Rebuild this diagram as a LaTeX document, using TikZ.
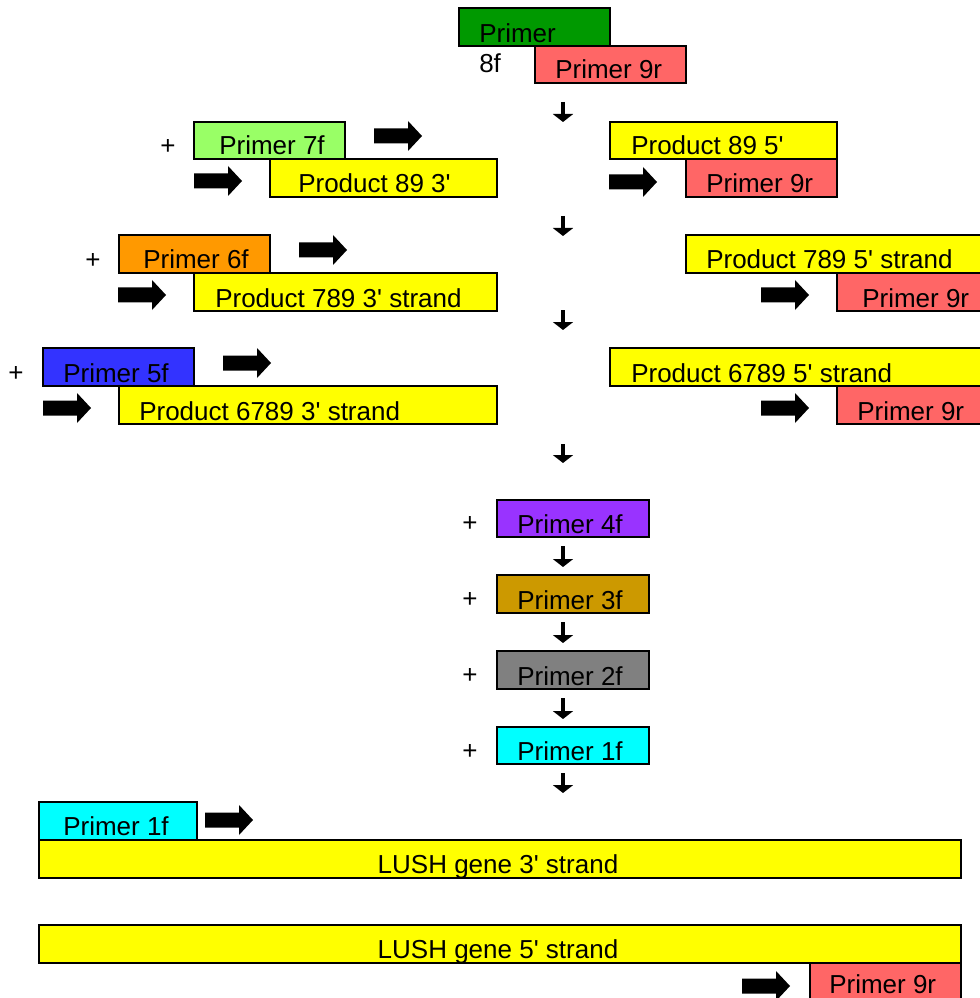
\documentclass[tikz,border=0pt]{standalone}
\usepackage{fontspec}
\setmainfont{Liberation Sans}[Ligatures=TeXOff]
\usetikzlibrary{fit,arrows.meta}
\definecolor{dkgreen}{HTML}{009900}
\definecolor{salmon}{HTML}{FF6666}
\definecolor{ltgreen}{HTML}{99FF66}
\definecolor{yel}{HTML}{FFFF00}
\definecolor{orng}{HTML}{FF9900}
\definecolor{blu}{HTML}{3333FF}
\definecolor{purp}{HTML}{9933FF}
\definecolor{gold}{HTML}{CC9900}
\definecolor{gry}{HTML}{808080}
\definecolor{cyn}{HTML}{00FFFF}
\tikzset{
 boxst/.style={draw=black, line width=1pt, inner sep=0pt},
 lbl/.style={inner sep=0pt, font=\fontsize{19.5}{23}\selectfont, anchor=base west},
 plus/.style={inner sep=0pt, font=\fontsize{19.5}{23}\selectfont},
 down/.style={line width=2.4pt, -{Triangle[width=15pt,length=6pt]}},
}
\newcommand\bx[9]{\node[boxst, fill=#2, fit={(#3,#4) (#5,#6)}] (#1) {};
  \node[lbl] (#1t) at (#7,#8) {#9};}
\newcommand\barr[2]{\fill (#1,#2) ++(0,7.5) -- ++(34,0) -- ++(0,-7.5) -- ++(14,15) -- ++(-14,15) -- ++(0,-7.5) -- ++(-34,0) -- cycle;}
\begin{document}
\begin{tikzpicture}[x=0.75pt,y=-0.75pt]
\useasboundingbox (0,0) rectangle (979,998);
% row 0
\bx{p8f}{dkgreen}{459}{8}{610}{46}{479}{43}{Primer}
\node[lbl] (p8fb) at (479,73) {8f};
\bx{p9ra}{salmon}{535}{46}{686}{83}{555}{79}{Primer 9r}
\coordinate (d1a) at (563,102); \coordinate (d1b) at (563,122);
\draw[down] (d1a) -- (d1b);
% row 1
\node[plus] (pl1) at (168,147) {+};
\bx{p7f}{ltgreen}{194}{122}{345}{159}{219}{155}{Primer 7f}
\bx{pr893}{yel}{270}{159}{497}{197}{298}{193}{Product 89 3'}
\barr{374}{121}
\barr{194}{166}
\bx{pr895}{yel}{610}{122}{837}{159}{631}{155}{Product 89 5'}
\bx{p9rb}{salmon}{686}{159}{837}{197}{706}{193}{Primer 9r}
\barr{609}{167}
\coordinate (d2a) at (563,216); \coordinate (d2b) at (563,236);
\draw[down] (d2a) -- (d2b);
% row 2
\node[plus] (pl2) at (93,261) {+};
\bx{p6f}{orng}{119}{235}{270}{273}{143}{269}{Primer 6f}
\bx{pr7893}{yel}{194}{273}{497}{311}{215}{307}{Product 789 3' strand}
\barr{299}{235}
\barr{118}{280}
\bx{pr7895}{yel}{686}{235}{981}{273}{706}{269}{Product 789 5' strand}
\bx{p9rc}{salmon}{837}{273}{981}{311}{862}{307}{Primer 9r}
\barr{761}{280}
\coordinate (d3a) at (563,310); \coordinate (d3b) at (563,330);
\draw[down] (d3a) -- (d3b);
% row 3
\node[plus] (pl3) at (16,374) {+};
\bx{p5f}{blu}{43}{348}{194}{386}{63}{382}{Primer 5f}
\bx{pr67893}{yel}{119}{386}{497}{424}{139}{420}{Product 6789 3' strand}
\barr{223}{348}
\barr{43}{393}
\bx{pr67895}{yel}{610}{348}{981}{386}{631}{382}{Product 6789 5' strand}
\bx{p9rd}{salmon}{837}{386}{981}{424}{857}{420}{Primer 9r}
\barr{761}{393}
\coordinate (d4a) at (563,444); \coordinate (d4b) at (563,463);
\draw[down] (d4a) -- (d4b);
% column
\node[plus] (pl4) at (470,524) {+};
\bx{p4f}{purp}{497}{500}{649}{537}{517}{533}{Primer 4f}
\coordinate (d5a) at (563,546); \coordinate (d5b) at (563,567);
\draw[down] (d5a) -- (d5b);
\node[plus] (pl5) at (470,600) {+};
\bx{p3f}{gold}{497}{575}{649}{613}{517}{609}{Primer 3f}
\coordinate (d6a) at (563,622); \coordinate (d6b) at (563,643);
\draw[down] (d6a) -- (d6b);
\node[plus] (pl6) at (470,676) {+};
\bx{p2f}{gry}{497}{651}{649}{689}{517}{685}{Primer 2f}
\coordinate (d7a) at (563,698); \coordinate (d7b) at (563,719);
\draw[down] (d7a) -- (d7b);
\node[plus] (pl7) at (470,752) {+};
\bx{p1f}{cyn}{497}{727}{649}{764}{517}{760}{Primer 1f}
\coordinate (d8a) at (563,773); \coordinate (d8b) at (563,793);
\draw[down] (d8a) -- (d8b);
% bottom
\bx{p1fb}{cyn}{39}{802}{197}{840}{63}{835}{Primer 1f}
\barr{205}{805}
\node[boxst, fill=yel, fit={(39,840) (961,878)}] (lush3) {};
\node[lbl, anchor=base] (lush3t) at (498,873) {LUSH gene 3' strand};
\node[boxst, fill=yel, fit={(39,925) (961,963)}] (lush5) {};
\node[lbl, anchor=base] (lush5t) at (498,958) {LUSH gene 5' strand};
\bx{p9re}{salmon}{810}{963}{961}{1001}{829}{993}{Primer 9r}
\barr{742}{971}
\end{tikzpicture}
\end{document}
